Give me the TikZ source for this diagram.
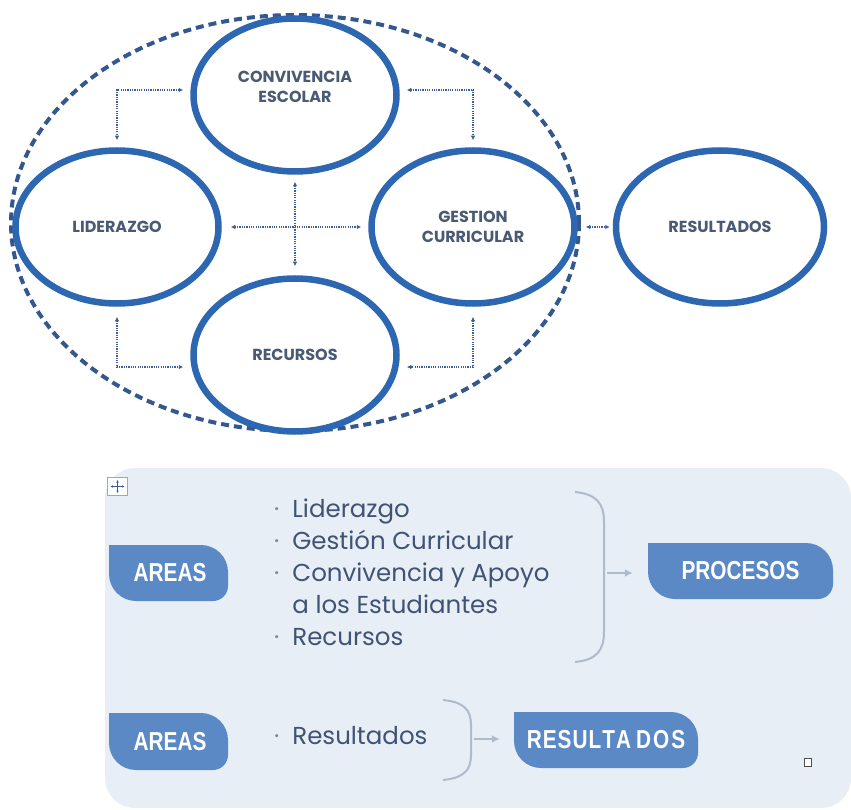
\documentclass[tikz,border=0pt]{standalone}
\usepackage{fontspec}
\setmainfont{Poppins}
\newfontfamily\condf[FakeStretch=0.8]{Liberation Sans}
\usetikzlibrary{shapes.geometric,arrows.meta}
\definecolor{ellblue}{HTML}{2E67B1}
\definecolor{dashblue}{HTML}{34588E}
\definecolor{ellText}{HTML}{4A5A74}
\definecolor{connc}{HTML}{3E5F95}
\definecolor{boxbg}{HTML}{E8EEF6}
\definecolor{pillc}{HTML}{5A89C6}
\definecolor{listc}{HTML}{3F5474}
\definecolor{brc}{HTML}{AEBBCC}
\newcommand\pillshape[4]{%
  \fill[pillc] (#1,#2) -- ({#3-27},#2) arc[start angle=90,end angle=0,radius=27pt]
   -- (#3,{#4-15}) arc[start angle=0,end angle=-90,radius=15pt]
   -- ({#1+27},#4) arc[start angle=-90,end angle=-180,radius=27pt] -- cycle;}
\begin{document}
\begin{tikzpicture}[x=1pt,y=-1pt,
  ell/.style={ellipse,draw=ellblue,line width=6.5pt,fill=white,minimum width=203pt,
     minimum height=153pt,inner sep=0pt,align=center,text=ellText,
     font=\fontsize{16}{20}\selectfont\bfseries},
  outerell/.style={ellipse,draw=dashblue,line width=4pt,dash pattern=on 8pt off 5pt,
     minimum width=568pt,minimum height=416pt,inner sep=0pt},
  conn/.style={draw=connc,line width=1.7pt,dash pattern=on 1.2pt off 1.1pt,
     {Latex[length=4.5pt,width=4.5pt]}-{Latex[length=4.5pt,width=4.5pt]},
     shorten <=7pt, shorten >=7pt},
  pilltext/.style={text=white,inner sep=0pt,font=\condf\bfseries\fontsize{26}{30}\selectfont},
  listtext/.style={text=listc,inner sep=0pt,anchor=west,
     font=\fontsize{24.5}{32}\selectfont},
  bracket/.style={draw=brc,line width=2pt},
  garrow/.style={draw=brc,line width=2pt,-{Latex[length=8pt,width=8pt]}},
]
\useasboundingbox (0,0) rectangle (851,810);
\fill[white] (0,0) rectangle (851,810);

% ---------- top diagram ----------
\node[outerell] (outer) at (295,223) {};
\node[ell] (conv) at (295,95) {};
\node[text=ellText,font=\fontsize{16}{20}\selectfont\bfseries,align=center] (convt) at (295,87) {CONVIVENCIA\\ESCOLAR};
\node[ell] (lid) at (117,227) {LIDERAZGO};
\node[ell] (gest) at (473,227) {GESTION\\CURRICULAR};
\node[ell] (rec) at (295,355) {\raisebox{-7pt}{RECURSOS}};
\node[ell,minimum width=208pt] (res) at (720,227) {RESULTADOS};

\draw[conn] ([yshift=5pt]conv.west) -| (lid.north);
\draw[conn] ([yshift=5pt]conv.east) -| (gest.north);
\draw[conn,shorten <=10pt] (lid.south) |- ([yshift=-12pt]rec.west);
\draw[conn,shorten <=10pt] (gest.south) |- ([yshift=-12pt]rec.east);
\draw[conn,shorten <=9pt] (lid.east) -- (gest.west);
\draw[conn,shorten >=9pt] (conv.south) -- (rec.north);
\draw[conn,shorten <=8pt,shorten >=3pt] (gest.east) -- (res.west);

% ---------- bottom panel ----------
\node[fill=boxbg,rounded corners=30pt,minimum width=746pt,minimum height=340pt,inner sep=0pt] (panel) at (478,638) {};

% move handle
\node[draw=gray!70,fill=white!92!boxbg,line width=0.8pt,minimum width=20pt,minimum height=18pt,inner sep=0pt] (handle) at (117.5,486.5) {};
\draw[connc,line width=0.8pt,{Latex[length=2.5pt,width=2.5pt]}-{Latex[length=2.5pt,width=2.5pt]}] ([xshift=-7pt]handle.center) -- ([xshift=7pt]handle.center);
\draw[connc,line width=0.8pt,{Latex[length=2.5pt,width=2.5pt]}-{Latex[length=2.5pt,width=2.5pt]}] ([yshift=-6.5pt]handle.center) -- ([yshift=6.5pt]handle.center);

% pills
\pillshape{109}{545}{228}{601}
\node[pilltext,minimum width=119pt,minimum height=56pt] (areas1) at (168.5,573) {\hspace{3pt}AREAS};
\pillshape{648}{543}{833}{599}
\node[pilltext,minimum width=185pt,minimum height=56pt] (proc) at (740.5,571) {PROCESOS\hspace{10pt}};
\pillshape{109}{713}{228}{770}
\node[pilltext,minimum width=119pt,minimum height=57pt] (areas2) at (168.5,741.5) {\hspace{3pt}AREAS};
\pillshape{514}{712}{698}{768}
\node[pilltext,minimum width=184pt,minimum height=56pt] (resu) at (606,740) {R\kern1ptE\kern1ptS\kern1ptU\kern1ptL\kern1ptT\kern1ptA\kern5ptD\kern2ptO\kern2ptS\hspace{10pt}};

% list texts
\node[listtext] (list1) at (274,575) {%
  \begin{tabular}{@{}l@{\hspace{13pt}}l@{}}
  {\color{listc!70}·} & Liderazgo\\
  {\color{listc!70}·} & Gestión Curricular\\
  {\color{listc!70}·} & Convivencia y Apoyo\\
   & a los Estudiantes\\
  {\color{listc!70}·} & Recursos
  \end{tabular}};
\node[listtext] (list2) at (274,738) {%
  \begin{tabular}{@{}l@{\hspace{13pt}}l@{}}
  {\color{listc!70}·} & Resultados
  \end{tabular}};

% brackets
\draw[bracket] (575,492) .. controls (596,494) and (604,503) .. (604,522) -- (604,632) .. controls (604,651) and (596,660) .. (575,662);
\draw[bracket] (443,700) .. controls (464,702) and (471,710) .. (471,725) -- (471,755) .. controls (471,770) and (464,778) .. (443,780);
\coordinate (br1) at (604,573);
\coordinate (br2) at (471,739);
\draw[garrow,shorten <=3pt,shorten >=15pt] (br1) -- (br1 -| proc.west);
\draw[garrow,shorten <=3pt,shorten >=14pt] (br2) -- (br2 -| resu.west);

% small square
\node[draw=black!70,fill=white,line width=0.9pt,minimum width=7pt,minimum height=8pt,inner sep=0pt] (sq) at (807.5,762.5) {};
\end{tikzpicture}
\end{document}
